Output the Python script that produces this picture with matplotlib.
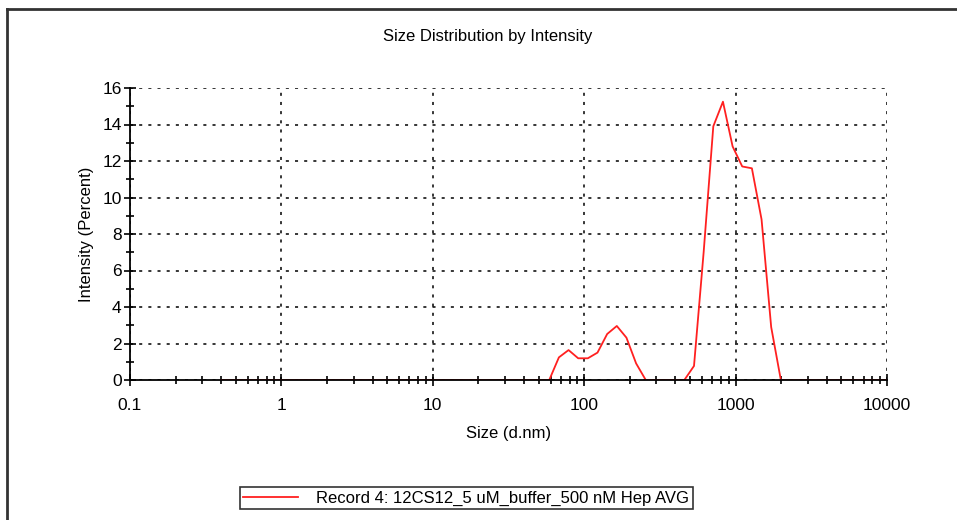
import matplotlib

matplotlib.use("Agg")
import matplotlib.pyplot as plt
from matplotlib.lines import Line2D
from matplotlib.ticker import FixedLocator, LogLocator, NullFormatter

plt.rcParams["font.family"] = ["Liberation Sans", "DejaVu Sans"]

# size bins (d.nm) and intensity (%)
size_nm = [
    0.4, 0.4632, 0.5365, 0.6213, 0.7195, 0.8332, 0.9649, 1.117, 1.294, 1.499,
    1.736, 2.010, 2.328, 2.696, 3.122, 3.615, 4.187, 4.849, 5.615, 6.503,
    7.531, 8.721, 10.10, 11.70, 13.54, 15.69, 18.17, 21.04, 24.36, 28.21,
    32.67, 37.84, 43.82, 50.75, 58.77, 68.06, 78.82, 91.28, 105.7, 122.4,
    141.8, 164.2, 190.1, 220.2, 255.0, 295.3, 342.0, 396.1, 458.7, 531.2,
    615.1, 712.4, 825.0, 955.4, 1106, 1281, 1484, 1718, 1990, 2305,
    2669, 3091, 3580, 4145, 4801, 5560, 6439, 7456, 8635, 10000,
]
intensity_pct = [
    0, 0, 0, 0, 0, 0, 0, 0, 0, 0,
    0, 0, 0, 0, 0, 0, 0, 0, 0, 0,
    0, 0, 0, 0, 0, 0, 0, 0, 0, 0,
    0, 0, 0, 0, 0, 1.24, 1.64, 1.19, 1.19, 1.50,
    2.52, 2.96, 2.32, 0.91, 0, 0, 0, 0, 0, 0.77,
    7.0, 13.9, 15.25, 12.8, 11.7, 11.6, 8.8, 2.9, 0, 0,
    0, 0, 0, 0, 0, 0, 0, 0, 0, 0,
]
x_ticks = [0.1, 1, 10, 100, 1000, 10000]
x_tick_labels = ["0.1", "1", "10", "100", "1000", "10000"]
y_ticks = [0, 2, 4, 6, 8, 10, 12, 14, 16]
record_label = "Record 4: 12CS12_5 uM_buffer_500 nM Hep AVG"

fig = plt.figure(figsize=(9.57, 5.2), dpi=100)
ax = fig.add_axes([130 / 957, 1 - 380 / 520, 757 / 957, 292 / 520])

(line,) = ax.plot(size_nm, intensity_pct, color="#ff2020", lw=1.3, label=record_label)

ax.set_xscale("log")
ax.set_xlim(0.1, 10000)
ax.set_ylim(0, 16)
ax.set_xticks(x_ticks)
ax.set_xticklabels(x_tick_labels)
ax.xaxis.set_minor_locator(LogLocator(base=10, subs=range(2, 10), numticks=20))
ax.xaxis.set_minor_formatter(NullFormatter())
ax.set_yticks(y_ticks)
ax.yaxis.set_minor_locator(FixedLocator([1, 3, 5, 7, 9, 11, 13, 15]))

ax.grid(True, which="major", color="black", linestyle=(0, (2, 4)), lw=1.1)
ax.set_axisbelow(True)
for side in ("top", "right"):
    ax.spines[side].set_visible(False)
for side in ("left", "bottom"):
    ax.spines[side].set_linewidth(1.3)
    ax.spines[side].set_zorder(3)

ax.tick_params(axis="both", which="major", direction="inout", length=8, width=1.2,
               labelsize=12.5, pad=2)
ax.tick_params(axis="both", which="minor", direction="inout", length=6, width=1.2)
ax.tick_params(axis="x", which="major", pad=9)

ax.set_xlabel("Size (d.nm)", fontsize=12, labelpad=9)
ax.set_ylabel("Intensity (Percent)", fontsize=12)
ax.yaxis.set_label_coords(-0.047, 0.5)
fig.text(488 / 957, 1 - 37 / 520, "Size Distribution by Intensity", fontsize=12,
         ha="center", va="center")

leg = fig.legend(handles=[line], loc="center", bbox_to_anchor=(466 / 957, 1 - 498 / 520),
                 fontsize=12, frameon=True, fancybox=False, handlelength=3.3,
                 handletextpad=1.1, borderpad=0.2, borderaxespad=0)
leg.get_frame().set_edgecolor("black")
leg.get_frame().set_linewidth(1.2)

# outer frame (top and left edges visible in the reference crop)
fig.add_artist(Line2D([7 / 957, 1], [1 - 9 / 520, 1 - 9 / 520], color="#333333", lw=2,
                      transform=fig.transFigure))
fig.add_artist(Line2D([7 / 957, 7 / 957], [0, 1 - 9 / 520], color="#333333", lw=2,
                      transform=fig.transFigure))

fig.savefig("out.png", dpi=100)
plt.close(fig)
